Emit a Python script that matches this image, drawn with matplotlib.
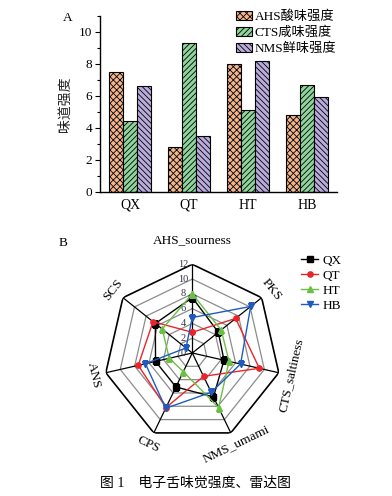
import numpy as np
import matplotlib
matplotlib.use("Agg")
import matplotlib.pyplot as plt
from matplotlib.ticker import MultipleLocator
from matplotlib.transforms import offset_copy

plt.rcParams['font.family'] = ['Liberation Serif', 'Noto Sans CJK SC']
plt.rcParams['hatch.linewidth'] = 0.6

# --- data: bar chart (A) ---
samples = ['QX', 'QT', 'HT', 'HB']
bar_labels = ['AHS酸味强度', 'CTS咸味强度', 'NMS鲜味强度']
ahs = [7.5, 2.8, 8.0, 4.8]
cts = [4.4, 9.3, 5.1, 6.7]
nms = [6.6, 3.5, 8.2, 5.9]
bar_colors = ['#f3b48a', '#8fd49c', '#b9acdc']
bar_hatch = ['xxxxx', '//////', '\\\\\\\\\\\\']

# --- data: radar chart (B) ---
radar_axes = ['AHS_sourness', 'PKS', 'CTS_saltiness', 'NMS_umami', 'CPS', 'ANS', 'SCS']
radar_qx = [7.5, 4.5, 4.4, 6.6, 5.1, 5.1, 6.4]
radar_qt = [2.8, 7.5, 9.3, 3.5, 8.2, 7.5, 6.8]
radar_ht = [8.0, 5.0, 5.1, 8.2, 2.8, 3.2, 5.2]
radar_hb = [4.8, 10.1, 6.7, 5.9, 8.3, 6.5, 1.1]
ring_ticks = [0, 2, 4, 6, 8, 10, 12]

fig = plt.figure(figsize=(3.92, 4.96), dpi=100)

# ---------- A: grouped bars ----------
ax = fig.add_axes([0.255, 0.6135, 0.605, 0.3545])
x = np.arange(len(samples))
w = 0.24
for i, vals in enumerate([ahs, cts, nms]):
    ax.bar(x + (i - 1) * w, vals, w, color=bar_colors[i], edgecolor='black',
           linewidth=0.8, hatch=bar_hatch[i], label=bar_labels[i])
ax.set_xlim(-0.51, 3.51)
ax.set_ylim(0, 11)
ax.set_xticks(x)
ax.set_xticklabels(samples, fontsize=10)
ax.set_yticks([0, 2, 4, 6, 8, 10])
ax.yaxis.set_minor_locator(MultipleLocator(1))
ax.tick_params(axis='y', direction='out', length=3.5, width=0.8, labelsize=9.5, pad=2)
ax.tick_params(axis='y', which='minor', direction='out', length=2, width=0.8)
ax.tick_params(axis='x', length=0, pad=5)
ax.spines['top'].set_visible(False)
ax.spines['right'].set_visible(False)
ax.spines['left'].set_linewidth(1)
ax.spines['bottom'].set_linewidth(1)
ax.set_ylabel('味道强度', fontsize=10, labelpad=5, color='#222222')
ax.legend(loc='upper right', bbox_to_anchor=(1.02, 1.06), frameon=False,
          fontsize=9.5, handlelength=1.2, handleheight=0.7, handletextpad=0.2,
          labelspacing=0.25, borderaxespad=0)
fig.text(68 / 392, 1 - 18 / 496, 'A', fontsize=9.5, ha='center', va='center')

# ---------- B: radar ----------
cx, cy, rad = 192.3, 353.0, 88.7
rx = fig.add_axes([(cx - rad) / 392, 1 - (cy + rad) / 496, 2 * rad / 392, 2 * rad / 496],
                  projection='polar')
rx.set_theta_zero_location('N')
rx.set_theta_direction(-1)
rx.set_ylim(0, 12)
rx.grid(False)
rx.spines['polar'].set_visible(False)
rx.set_xticks([])
rx.set_yticks([])
rx.patch.set_alpha(0)

n = len(radar_axes)
theta = np.linspace(0, 2 * np.pi, n, endpoint=False)
theta_c = np.append(theta, theta[0])

for r in ring_ticks[1:]:
    col = 'black' if r == 12 else '#8c8c8c'
    rx.plot(theta_c, [r] * (n + 1), color=col, lw=1.2 if r == 12 else 0.9, zorder=1)
for t in theta:
    rx.plot([t, t], [0, 12], color='black', lw=0.9, zorder=1)

lab_tr = offset_copy(rx.transData, fig=fig, x=-9, y=0, units='dots')
for r in ring_ticks:
    rx.text(0, r, str(r), fontsize=7.5, color='#333344', transform=lab_tr,
            ha='center', va='center', zorder=2)

series = [('QX', radar_qx, 'black', 's'), ('QT', radar_qt, '#e8262a', 'o'),
          ('HT', radar_ht, '#6cbf45', '^'), ('HB', radar_hb, '#1f5bbf', 'v')]
for name, vals, col, mk in series:
    rx.plot(theta_c, list(vals) + [vals[0]], color=col, lw=1.0, marker=mk,
            markersize=3.8, label=name, zorder=3)

for t, lab in zip(theta, radar_axes):
    deg = np.rad2deg(t)
    if deg == 0:
        rx.text(t, 15.3, lab, fontsize=9.5, ha='center', va='center')
        continue
    rot = -deg
    if rot < -90:
        rot += 180
    if deg > 180:
        rot = 360 - deg
        if rot > 90:
            rot -= 180
    rx.text(t, 13.7, lab, fontsize=9.5, ha='center', va='center',
            rotation=rot, rotation_mode='anchor')

fig.legend(*rx.get_legend_handles_labels(), loc='upper left',
           bbox_to_anchor=(296 / 392, 1 - 249 / 496), frameon=False, fontsize=9.5,
           handlelength=1.3, handletextpad=0.3, labelspacing=0.22, borderaxespad=0)
fig.text(63 / 392, 1 - 243 / 496, 'B', fontsize=9.5, ha='center', va='center')

fig.text(0.5, 1 - 483 / 496, '图 1    电子舌味觉强度、雷达图', fontsize=10,
         ha='center', va='center')

fig.savefig('out.png', dpi=100)
